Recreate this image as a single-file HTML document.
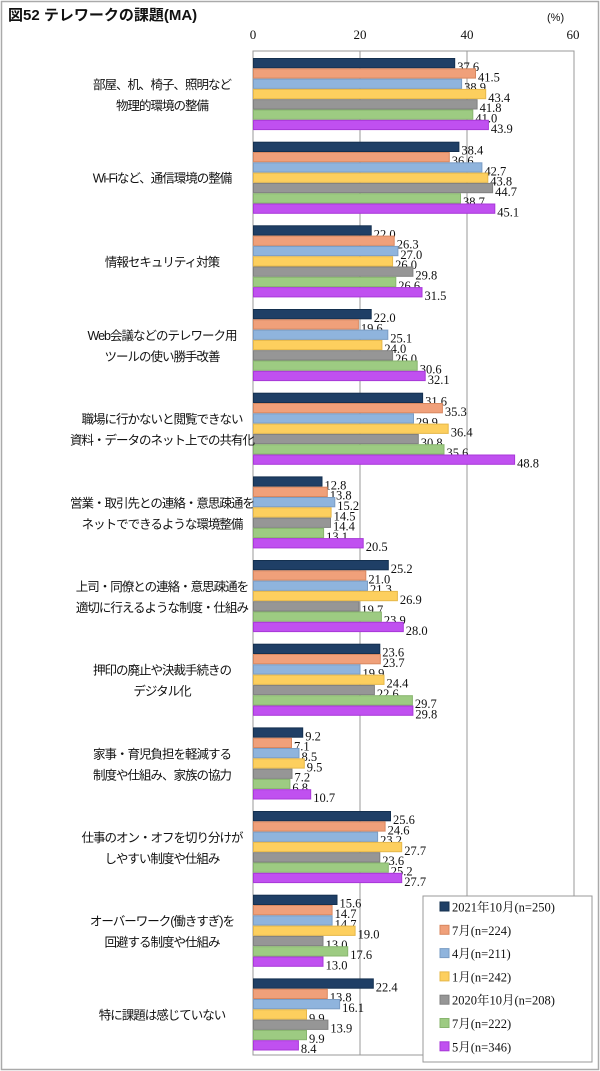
<!DOCTYPE html>
<html><head><meta charset="utf-8"><style>
body{margin:0;background:#fff;}
svg{display:block;font-family:"Liberation Sans","Noto Sans CJK JP",sans-serif;}
.v{font-family:"Liberation Serif","Noto Serif CJK SC",serif;font-size:12.5px;fill:#111;}
.c{font-size:12.5px;fill:#111;text-anchor:middle;letter-spacing:-1px;}
</style></head><body>
<svg id="s" width="600" height="1071" xmlns="http://www.w3.org/2000/svg">
<rect x="1.5" y="1.5" width="597" height="1068" fill="#fff" stroke="#aaa" stroke-width="1.5"/>
<text x="8" y="20" font-size="15" font-weight="bold" fill="#111">図52 テレワークの課題(MA)</text>
<text x="547" y="21" font-size="11" fill="#111">(%)</text>
<g class="v" text-anchor="middle" style="font-size:13px">
<text x="253" y="39">0</text><text x="360" y="39">20</text><text x="467" y="39">40</text><text x="573" y="39">60</text></g>
<rect x="253" y="51" width="321" height="1004" fill="none" stroke="#999" stroke-width="1"/>
<line x1="360" y1="51" x2="360" y2="1055" stroke="#999"/>
<line x1="467" y1="51" x2="467" y2="1055" stroke="#999"/>
<g id="bars"></g>
<rect x="423" y="896" width="169" height="166" fill="#fff" stroke="#999"/>
<g id="leg"></g>
</svg>
<script>
var cols=["#1f3f66","#f0a07a","#8fb4dd","#fdcf5e","#969696","#9dcb82","#c050f0"];
var strokes=["#14304f","#d88860","#7a9cc4","#e6b84a","#808080","#88b56e","#a838d8"];
var data=[[37.6,41.5,38.9,43.4,41.8,41.0,43.9],[38.4,36.6,42.7,43.8,44.7,38.7,45.1],[22.0,26.3,27.0,26.0,29.8,26.6,31.5],[22.0,19.6,25.1,24.0,26.0,30.6,32.1],[31.6,35.3,29.9,36.4,30.8,35.6,48.8],[12.8,13.8,15.2,14.5,14.4,13.1,20.5],[25.2,21.0,21.3,26.9,19.7,23.9,28.0],[23.6,23.7,19.9,24.4,22.6,29.7,29.8],[9.2,7.1,8.5,9.5,7.2,6.8,10.7],[25.6,24.6,23.2,27.7,23.6,25.2,27.7],[15.6,14.7,14.7,19.0,13.0,17.6,13.0],[22.4,13.8,16.1,9.9,13.9,9.9,8.4]];
var cats=[["部屋、机、椅子、照明など","物理的環境の整備"],["Wi-Fiなど、通信環境の整備"],["情報セキュリティ対策"],["Web会議などのテレワーク用","ツールの使い勝手改善"],["職場に行かないと閲覧できない","資料・データのネット上での共有化"],["営業・取引先との連絡・意思疎通を","ネットでできるような環境整備"],["上司・同僚との連絡・意思疎通を","適切に行えるような制度・仕組み"],["押印の廃止や決裁手続きの","デジタル化"],["家事・育児負担を軽減する","制度や仕組み、家族の協力"],["仕事のオン・オフを切り分けが","しやすい制度や仕組み"],["オーバーワーク(働きすぎ)を","回避する制度や仕組み"],["特に課題は感じていない"]];
var leg=["2021年10月(n=250)","7月(n=224)","4月(n=211)","1月(n=242)","2020年10月(n=208)","7月(n=222)","5月(n=346)"];
var h="",sc=321/60,bh=10.3;
data.forEach(function(g,i){var gy=51+i*83.67+7;
 g.forEach(function(v,j){var y=gy+j*bh,w=v*sc;
  h+='<rect x="253.5" y="'+(y+0.5).toFixed(1)+'" width="'+w.toFixed(1)+'" height="'+(bh-1).toFixed(1)+'" fill="'+cols[j]+'" stroke="'+strokes[j]+'" stroke-width="1"/>';
  h+='<text class="v" x="'+(253+w+3).toFixed(1)+'" y="'+(y+13).toFixed(1)+'">'+v.toFixed(1)+'</text>';});
 var cy=gy+36,L=cats[i];
 if(L.length==1)h+='<text class="c" x="162" y="'+(cy+5)+'">'+L[0]+'</text>';
 else{h+='<text class="c" x="162" y="'+(cy-5)+'">'+L[0]+'</text><text class="c" x="162" y="'+(cy+16)+'">'+L[1]+'</text>';}
});
document.getElementById("bars").innerHTML=h;
var l="";leg.forEach(function(t,j){var y=907+j*23.3;
 l+='<rect x="440" y="'+(y-5)+'" width="9" height="9" fill="'+cols[j]+'" stroke="'+strokes[j]+'"/>';
 l+='<text x="452" y="'+(y+4.5)+'" font-size="12.5" fill="#111" font-family="Liberation Serif,Noto Serif CJK SC,serif">'+t+'</text>';});
document.getElementById("leg").innerHTML=l;
</script>
</body></html>
